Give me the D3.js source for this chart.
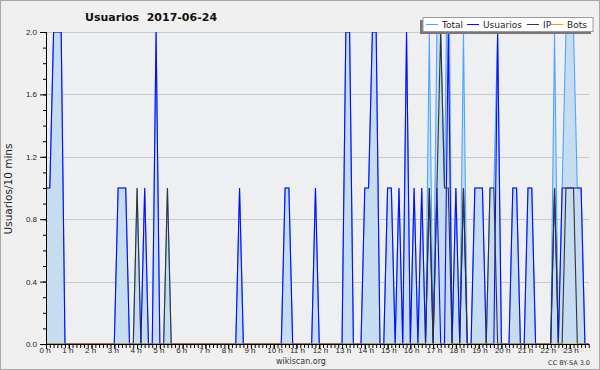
<!DOCTYPE html>
<html>
<head>
<meta charset="utf-8">
<script src="https://cdn.jsdelivr.net/npm/d3@7"></script>
<style>
  body { margin: 0; background: #f0f0f0; }
  svg { display: block; font-family: "DejaVu Sans", sans-serif; }
</style>
</head>
<body>
<div class="main"></div>
<script>
// values per 10 minutes, 00:00 -> 23:50
var total = [
  1,1,2,2,2,0, 0,0,0,0,0,0,
  0,0,0,0,0,0, 0,1,1,1,0,0,
  1,0,1,0,0,2, 0,0,1,0,0,0,
  0,0,0,0,0,0, 0,0,0,0,0,0,
  0,0,0,1,0,0, 0,0,0,0,0,0,
  0,0,0,1,1,0, 0,0,0,0,0,1,
  0,0,0,0,0,0, 0,2,2,0,0,0,
  1,1,2,2,0,0, 1,1,0,1,0,2,
  0,1,0,1,0,2, 0,2,2,1,3,0,
  1,0,2,0,0,1, 1,1,0,1,1,2,
  0,0,0,1,1,0, 0,1,1,0,0,0,
  0,0,2,0,1,2, 2,2,1,1,0,0
];
var usuarios = [
  1,1,2,2,2,0, 0,0,0,0,0,0,
  0,0,0,0,0,0, 0,1,1,1,0,0,
  0,0,1,0,0,2, 0,0,0,0,0,0,
  0,0,0,0,0,0, 0,0,0,0,0,0,
  0,0,0,1,0,0, 0,0,0,0,0,0,
  0,0,0,1,1,0, 0,0,0,0,0,1,
  0,0,0,0,0,0, 0,2,2,0,0,0,
  1,1,2,2,0,0, 1,1,0,1,0,2,
  0,1,0,1,0,1, 0,1,0,0,2,0,
  1,0,1,0,0,1, 1,1,0,0,0,2,
  0,0,0,1,1,0, 0,1,1,0,0,0,
  0,0,1,0,1,1, 1,1,1,1,0,0
];
var ip = [
  0,0,0,0,0,0, 0,0,0,0,0,0,
  0,0,0,0,0,0, 0,0,0,0,0,0,
  1,0,0,0,0,0, 0,0,1,0,0,0,
  0,0,0,0,0,0, 0,0,0,0,0,0,
  0,0,0,0,0,0, 0,0,0,0,0,0,
  0,0,0,0,0,0, 0,0,0,0,0,0,
  0,0,0,0,0,0, 0,0,0,0,0,0,
  0,0,0,0,0,0, 0,0,0,0,0,0,
  0,0,0,0,0,1, 0,1,2,1,1,0,
  0,0,1,0,0,0, 0,0,0,1,1,0,
  0,0,0,0,0,0, 0,0,0,0,0,0,
  0,0,1,0,0,1, 1,1,0,0,0,0
];
var bots = [
  0,0,0,0,0,0, 0,0,0,0,0,0,
  0,0,0,0,0,0, 0,0,0,0,0,0,
  0,0,0,0,0,0, 0,0,0,0,0,0,
  0,0,0,0,0,0, 0,0,0,0,0,0,
  0,0,0,0,0,0, 0,0,0,0,0,0,
  0,0,0,0,0,0, 0,0,0,0,0,0,
  0,0,0,0,0,0, 0,0,0,0,0,0,
  0,0,0,0,0,0, 0,0,0,0,0,0,
  0,0,0,0,0,0, 0,0,0,0,0,0,
  0,0,0,0,0,0, 0,0,0,0,0,0,
  0,0,0,0,0,0, 0,0,0,0,0,0,
  0,0,0,0,0,0, 0,0,0,0,0,0
];

var yTicks = [0, 0.4, 0.8, 1.2, 1.6, 2.0];
var hourLabels = ["0 h","1 h","2 h","3 h","4 h","5 h","6 h","7 h","8 h","9 h","10 h","11 h",
                  "12 h","13 h","14 h","15 h","16 h","17 h","18 h","19 h","20 h","21 h","22 h","23 h"];
var seriesNames = ["Total", "Usuarios", "IP", "Bots"];

(function() {
  'use strict';

  var colors = ["#4da6ff", "#0a0aff", "#333333", "#ff9900"];
  var values = [total, usuarios, ip, bots];

  var W = 600, H = 370;
  var pl = 46, pr = 589, pt = 32, pb = 344;

  var x = d3.scaleLinear().domain([0, 1440]).range([pl, 592.5]);
  var y = d3.scaleLinear().domain([0, 2]).range([pb, pt]);

  var svg = d3.select(".main")
    .append("svg")
      .attr("width", W)
      .attr("height", H);

  svg.append("rect")
      .attr("x", 0.5).attr("y", 0.5)
      .attr("width", W - 1).attr("height", H - 1)
      .style("fill", "#f0f0f0")
      .style("stroke", "#a8a8a8");

  svg.append("rect")
      .attr("x", pl).attr("y", pt)
      .attr("width", pr - pl).attr("height", pb - pt)
      .style("fill", "#eeeff1");

  svg.append("clipPath").attr("id", "plot")
    .append("rect")
      .attr("x", pl).attr("y", pt)
      .attr("width", pr - pl).attr("height", pb - pt);

  // grid
  svg.append("g")
    .selectAll("line")
    .data(yTicks.slice(1))
    .enter().append("line")
      .attr("x1", pl).attr("x2", pr)
      .attr("y1", function(d) { return Math.round(y(d)) + 0.5; })
      .attr("y2", function(d) { return Math.round(y(d)) + 0.5; })
      .style("stroke", "#c9c9cc");

  var plot = svg.append("g").attr("clip-path", "url(#plot)");
  var px = function(d, i) { return x(i * 10); };

  plot.append("path")
      .datum(total)
      .attr("d", d3.area().x(px).y0(pb).y1(function(d) { return y(d); }))
      .style("fill", "#c6ddf1");

  values.forEach(function(v, k) {
    plot.append("path")
        .datum(v)
        .attr("d", d3.line().x(px).y(function(d) { return y(d); }))
        .style("fill", "none")
        .style("stroke", colors[k])
        .style("stroke-width", 1.1);
  });

  // y axis
  svg.append("g")
      .attr("transform", "translate(" + pl + ",0)")
      .call(d3.axisLeft(y).tickValues(yTicks).tickSize(6).tickFormat(d3.format(".1f")));
  svg.append("g")
      .attr("transform", "translate(" + pl + ",0)")
      .call(d3.axisLeft(y).tickValues(d3.range(0, 2.01, 0.1)).tickSize(3).tickFormat(""));

  // x axis
  svg.append("g")
      .attr("transform", "translate(0," + pb + ")")
      .call(d3.axisBottom(x).tickValues(d3.range(0, 1440, 10)).tickSize(4).tickFormat(""));
  var xAxis = svg.append("g")
      .attr("transform", "translate(0," + pb + ")")
      .call(d3.axisBottom(x).tickValues(d3.range(0, 1440, 60)).tickSize(5)
        .tickFormat(function(d) { return hourLabels[d / 60]; }));
  xAxis.selectAll("text")
      .attr("text-anchor", "start")
      .attr("x", -7)
      .attr("y", 3)
      .attr("dy", "0.71em");

  svg.selectAll(".domain").remove();
  svg.append("line")
      .attr("x1", pl + 0.5).attr("x2", pl + 0.5)
      .attr("y1", pt).attr("y2", pb + 0.5)
      .style("stroke", "#000");
  svg.append("line")
      .attr("x1", pl).attr("x2", pr)
      .attr("y1", pb + 0.5).attr("y2", pb + 0.5)
      .style("stroke", "#000");

  svg.selectAll(".tick text")
      .style("font-size", "8px")
      .style("fill", "#222");
  svg.selectAll(".tick line").style("stroke", "#000");

  // titles
  svg.append("text")
      .attr("x", 85).attr("y", 21)
      .attr("xml:space", "preserve")
      .text("Usuarios  2017-06-24")
      .style("font-weight", "bold")
      .style("font-size", "11px")
      .style("fill", "#111");

  svg.append("text")
      .attr("transform", "translate(12,189) rotate(-90)")
      .attr("text-anchor", "middle")
      .text("Usuarios/10 mins")
      .style("font-size", "10.5px")
      .style("fill", "#222");

  svg.append("text")
      .attr("x", 301).attr("y", 364)
      .attr("text-anchor", "middle")
      .text("wikiscan.org")
      .style("font-size", "8px")
      .style("fill", "#333");

  svg.append("text")
      .attr("x", 590).attr("y", 365)
      .attr("text-anchor", "end")
      .text("CC BY-SA 3.0")
      .style("font-size", "6.5px")
      .style("fill", "#333");

  // legend
  var lg = svg.append("g");
  lg.append("rect")
      .attr("x", 420).attr("y", 20)
      .attr("width", 171).attr("height", 14)
      .style("fill", "#777");
  lg.append("rect")
      .attr("x", 423).attr("y", 17.5)
      .attr("width", 170).attr("height", 14)
      .style("fill", "#fff")
      .style("stroke", "#999");

  var legendX = [426, 467, 527, 551];
  seriesNames.forEach(function(name, i) {
    lg.append("line")
        .attr("x1", legendX[i]).attr("x2", legendX[i] + 12)
        .attr("y1", 24.5).attr("y2", 24.5)
        .style("stroke", colors[i]);
    lg.append("text")
        .attr("x", legendX[i] + 16).attr("y", 28)
        .text(name)
        .style("font-size", "9px")
        .style("fill", "#222");
  });

})();
</script>
</body>
</html>
